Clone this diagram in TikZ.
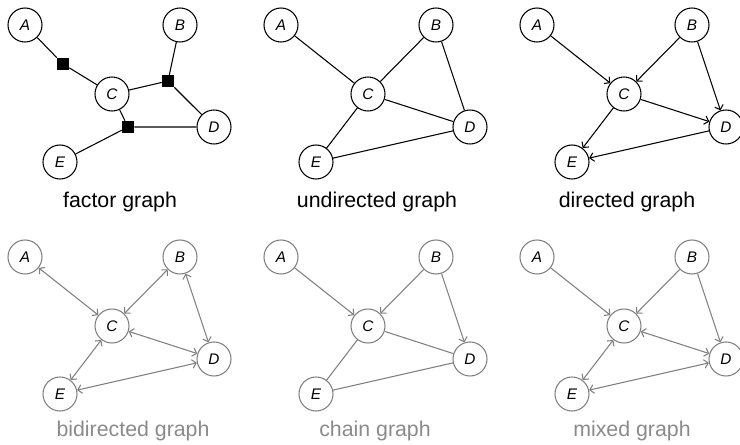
\documentclass[tikz,border=0pt]{standalone}
\usepackage{fontspec}
\setmainfont{Liberation Sans}
\usetikzlibrary{arrows.meta}
\definecolor{lg}{HTML}{808080}
\definecolor{lgtext}{HTML}{8A8A8A}
\newcommand\mkpanel[3]{%
  \node[var] (#1A) at (25+#2,25+#3) {A};
  \node[var] (#1B) at (180+#2,25+#3) {B};
  \node[var] (#1C) at (112+#2,94+#3) {C};
  \node[var] (#1D) at (214+#2,127+#3) {D};
  \node[var] (#1E) at (60+#2,162+#3) {E};
}
\begin{document}
\begin{tikzpicture}[x=0.75pt,y=-0.75pt,
  var/.style={circle,draw,minimum size=25.5pt,inner sep=0pt,line width=0.8pt,
    text=black,font=\fontsize{11.5}{13}\selectfont\itshape},
  fac/.style={rectangle,fill=black,minimum size=9pt,inner sep=0pt},
  edge/.style={line width=0.8pt},
  dir/.style={edge,-{Straight Barb[length=3pt,width=6.5pt]}},
  bid/.style={edge,{Straight Barb[length=3pt,width=6.5pt]}-{Straight Barb[length=3pt,width=6.5pt]}},
  caption/.style={font=\fontsize{16}{19}\selectfont,anchor=base,inner sep=0pt}
]
\useasboundingbox (0,0) rectangle (740,445);

% ---------- factor graph ----------
\mkpanel{p}{0}{0}
\node[fac] (f1) at (63,64) {};
\node[fac] (f2) at (168,81) {};
\node[fac] (f3) at (128,127) {};
\draw[edge] (pA) -- (f1) -- (pC);
\draw[edge] (pB) -- (f2) -- (pC);
\draw[edge] (f2) -- (pD);
\draw[edge] (pC) -- (f3) -- (pD);
\draw[edge] (f3) -- (pE);
\node[caption] (lp) at (120,208) {factor graph};

% ---------- undirected graph ----------
\mkpanel{u}{256}{0}
\draw[edge] (uA) -- (uC);
\draw[edge] (uB) -- (uC);
\draw[edge] (uB) -- (uD);
\draw[edge] (uC) -- (uD);
\draw[edge] (uC) -- (uE);
\draw[edge] (uD) -- (uE);
\node[caption] (lu) at (377,208) {undirected graph};

% ---------- directed graph ----------
\mkpanel{d}{512}{0}
\draw[dir] (dA) -- (dC);
\draw[dir] (dB) -- (dC);
\draw[dir] (dB) -- (dD);
\draw[dir] (dC) -- (dD);
\draw[dir] (dC) -- (dE);
\draw[dir] (dD) -- (dE);
\node[caption] (ld) at (627,208) {directed graph};

\begin{scope}[color=lg]
% ---------- bidirected graph ----------
\mkpanel{b}{0}{232}
\draw[bid] (bA) -- (bC);
\draw[bid] (bB) -- (bC);
\draw[bid] (bB) -- (bD);
\draw[bid] (bC) -- (bD);
\draw[bid] (bC) -- (bE);
\draw[bid] (bD) -- (bE);
\node[caption,text=lgtext] (lb) at (133,437) {bidirected graph};

% ---------- chain graph ----------
\mkpanel{c}{256}{232}
\draw[dir] (cA) -- (cC);
\draw[dir] (cB) -- (cC);
\draw[dir] (cB) -- (cD);
\draw[edge] (cC) -- (cD);
\draw[edge] (cC) -- (cE);
\draw[edge] (cD) -- (cE);
\node[caption,text=lgtext] (lc) at (375,437) {chain graph};

% ---------- mixed graph ----------
\mkpanel{m}{512}{232}
\draw[dir] (mA) -- (mC);
\draw[dir] (mB) -- (mC);
\draw[dir] (mB) -- (mD);
\draw[bid] (mC) -- (mD);
\draw[bid] (mC) -- (mE);
\draw[bid] (mD) -- (mE);
\node[caption,text=lgtext] (lm) at (632,437) {mixed graph};
\end{scope}
\end{tikzpicture}
\end{document}
